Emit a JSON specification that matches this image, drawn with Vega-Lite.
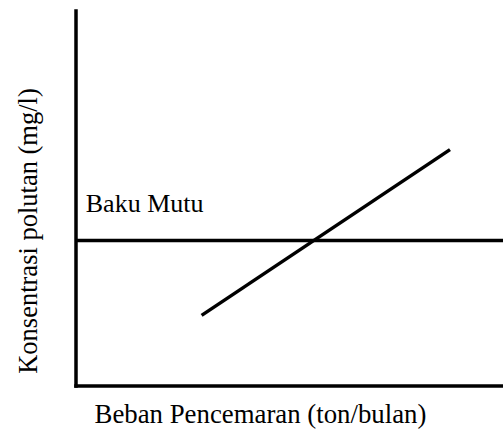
{
  "$schema": "https://vega.github.io/schema/vega-lite/v6.json",
  "width": 427.5,
  "height": 375,
  "autosize": {"type": "none"},
  "padding": {"left": 75.5, "top": 10.5, "right": 0, "bottom": 45.5},
  "background": "white",
  "config": {"view": {"stroke": null}, "font": "Liberation Serif"},
  "datasets": {
    "lines": [
      {"series": "Baku Mutu", "beban": 0, "konsentrasi": 38.7},
      {"series": "Baku Mutu", "beban": 100, "konsentrasi": 38.7},
      {"series": "Polutan", "beban": 29.5, "konsentrasi": 18.7},
      {"series": "Polutan", "beban": 87.6, "konsentrasi": 62.9}
    ],
    "labels": [
      {"beban": 2.4, "konsentrasi": 46.4, "label": "Baku Mutu"}
    ]
  },
  "layer": [
    {
      "data": {"name": "lines"},
      "mark": {"type": "line", "color": "black", "strokeWidth": 3.5, "clip": false},
      "encoding": {
        "x": {
          "field": "beban", "type": "quantitative",
          "scale": {"domain": [0, 100], "nice": false, "zero": false},
          "axis": {
            "title": "Beban Pencemaran (ton/bulan)",
            "labels": false, "ticks": false, "grid": false,
            "domainColor": "black", "domainWidth": 3.5, "domainCap": "square",
            "titleFont": "Liberation Serif", "titleFontWeight": "normal", "titleFontSize": 26.8,
            "titleColor": "black", "titleX": 184.5, "titleY": 29, "titleBaseline": "middle", "titleAlign": "center"
          }
        },
        "y": {
          "field": "konsentrasi", "type": "quantitative",
          "scale": {"domain": [0, 100], "nice": false, "zero": false},
          "axis": {
            "title": "Konsentrasi polutan (mg/l)",
            "labels": false, "ticks": false, "grid": false,
            "domainColor": "black", "domainWidth": 3.5, "domainCap": "square",
            "titleFont": "Liberation Serif", "titleFontWeight": "normal", "titleFontSize": 26.5,
            "titleColor": "black", "titleX": -47, "titleY": 220, "titleBaseline": "middle", "titleAlign": "center", "titleAngle": -90
          }
        },
        "detail": {"field": "series", "type": "nominal"}
      }
    },
    {
      "data": {"name": "labels"},
      "mark": {"type": "text", "align": "left", "baseline": "alphabetic", "font": "Liberation Serif", "fontSize": 26, "color": "black"},
      "encoding": {
        "x": {"field": "beban", "type": "quantitative"},
        "y": {"field": "konsentrasi", "type": "quantitative"},
        "text": {"field": "label", "type": "nominal"}
      }
    }
  ]
}
